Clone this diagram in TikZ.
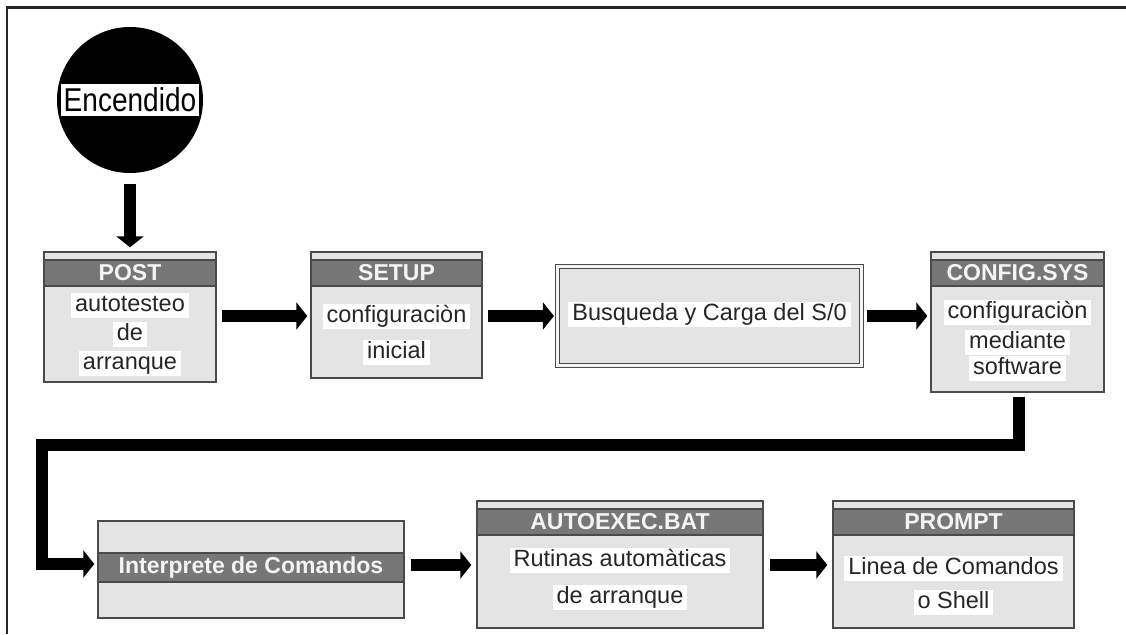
\documentclass[tikz,border=0pt]{standalone}
\usepackage{fontspec}
\setmainfont{Liberation Sans}
\usetikzlibrary{arrows.meta,calc}
\definecolor{boxfill}{HTML}{E4E4E4}
\definecolor{hdrfill}{HTML}{777777}
\definecolor{edgecol}{HTML}{4A4A4A}
\definecolor{hdrtext}{HTML}{F4F4F4}
\definecolor{txtcol}{HTML}{262626}
\begin{document}
\begin{tikzpicture}[x=1pt,y=-1pt,
  box/.style={draw=edgecol, fill=boxfill, line width=1.4pt, inner sep=0pt},
  hdr/.style={draw=edgecol, fill=hdrfill, line width=1.4pt, inner sep=0pt,
    text=hdrtext, font=\fontsize{23}{23}\selectfont\bfseries},
  txt/.style={fill=white, inner xsep=4pt, inner ysep=1.5pt, text height=17pt,
    text depth=5pt, text=txtcol, font=\fontsize{23.5}{24}\selectfont},
  flow/.style={line width=12pt, line join=miter, draw=black,
    -{Triangle[length=11pt,width=27pt]}}
]
\useasboundingbox (0,0) rectangle (1126,634);
% frame
\draw[line width=2.5pt, draw=black!85] (7,634) -- (7,7.5) -- (1126,7.5);

% Encendido
\node[circle, fill=black, minimum size=146pt, inner sep=0pt] (enc) at (130,100) {};
\node[draw=black, fill=white, line width=1.5pt, minimum width=140pt, minimum height=34pt, inner sep=0pt,
  font=\fontsize{33}{33}\selectfont] (enclbl) at (130,100) {\scalebox{0.85}[1]{Encendido}};

% POST
\node[box, minimum width=172pt, minimum height=130pt] (post) at (130,317) {};
\node[hdr, minimum width=172pt, minimum height=26pt] (posth) at (130,273) {POST};
\node[txt] (post1) at (130,305) {autotesteo};
\node[txt] (post2) at (130,334) {de};
\node[txt] (post3) at (130,363) {arranque};

% SETUP
\node[box, minimum width=171pt, minimum height=126pt] (setup) at (396.5,315) {};
\node[hdr, minimum width=171pt, minimum height=26pt] (setuph) at (396.5,273) {SETUP};
\node[txt] (setup1) at (396.5,316) {configuraciòn};
\node[txt] (setup2) at (396.5,352) {inicial};

% Busqueda
\node[box, double=white!92!gray, double distance=2.5pt, line width=1.2pt,
  minimum width=304pt, minimum height=99pt] (busq) at (709.5,316) {};
\node[txt] (busq1) at (709.5,314) {Busqueda y Carga del S/0};

% CONFIG.SYS
\node[box, minimum width=173pt, minimum height=140pt] (config) at (1017.5,322) {};
\node[hdr, minimum width=173pt, minimum height=26pt] (configh) at (1017.5,273) {CONFIG.SYS};
\node[txt] (config1) at (1017.5,312) {configuraciòn};
\node[txt] (config2) at (1017.5,342) {mediante};
\node[txt] (config3) at (1017.5,368) {software};

% Interprete
\node[box, minimum width=306pt, minimum height=97pt] (interp) at (251,569.5) {};
\node[hdr, minimum width=306pt, minimum height=29pt] (interph) at (251,567.5) {Interprete de Comandos};

% AUTOEXEC
\node[box, minimum width=286pt, minimum height=127pt] (auto) at (620,564.5) {};
\node[hdr, minimum width=286pt, minimum height=26pt] (autoh) at (620,522) {AUTOEXEC.BAT};
\node[txt] (auto1) at (620,560) {Rutinas automàticas};
\node[txt] (auto2) at (620,597) {de arranque};

% PROMPT
\node[box, minimum width=241pt, minimum height=127pt] (prompt) at (953.5,564.5) {};
\node[hdr, minimum width=241pt, minimum height=26pt] (prompth) at (953.5,522) {PROMPT};
\node[txt] (prompt1) at (953.5,568) {Linea de Comandos};
\node[txt] (prompt2) at (953.5,602) {o Shell};

% connectors
\coordinate (r1) at (0,316);
\coordinate (r2) at (0,565);
\coordinate (k1) at (1019,445);
\coordinate (k2) at (42,445);
\coordinate (k3) at (42,564);

\draw[flow, shorten <=11pt, shorten >=4pt] (enc) -- (post);
\draw[flow, shorten <=5pt, shorten >=3pt] (post.east |- r1) -- (setup.west |- r1);
\draw[flow, shorten <=5pt, shorten >=3pt] (setup.east |- r1) -- (busq.west |- r1);
\draw[flow, shorten <=5pt, shorten >=3pt] (busq.east |- r1) -- (config.west |- r1);
\draw[flow, shorten <=4pt, shorten >=3pt] (config.south -| k1) -- (k1) -- (k2) -- (k3) -- (interp.west |- k3);
\draw[flow, shorten <=6pt, shorten >=5pt] (interp.east |- r2) -- (auto.west |- r2);
\draw[flow, shorten <=6pt, shorten >=5pt] (auto.east |- r2) -- (prompt.west |- r2);
\end{tikzpicture}
\end{document}
